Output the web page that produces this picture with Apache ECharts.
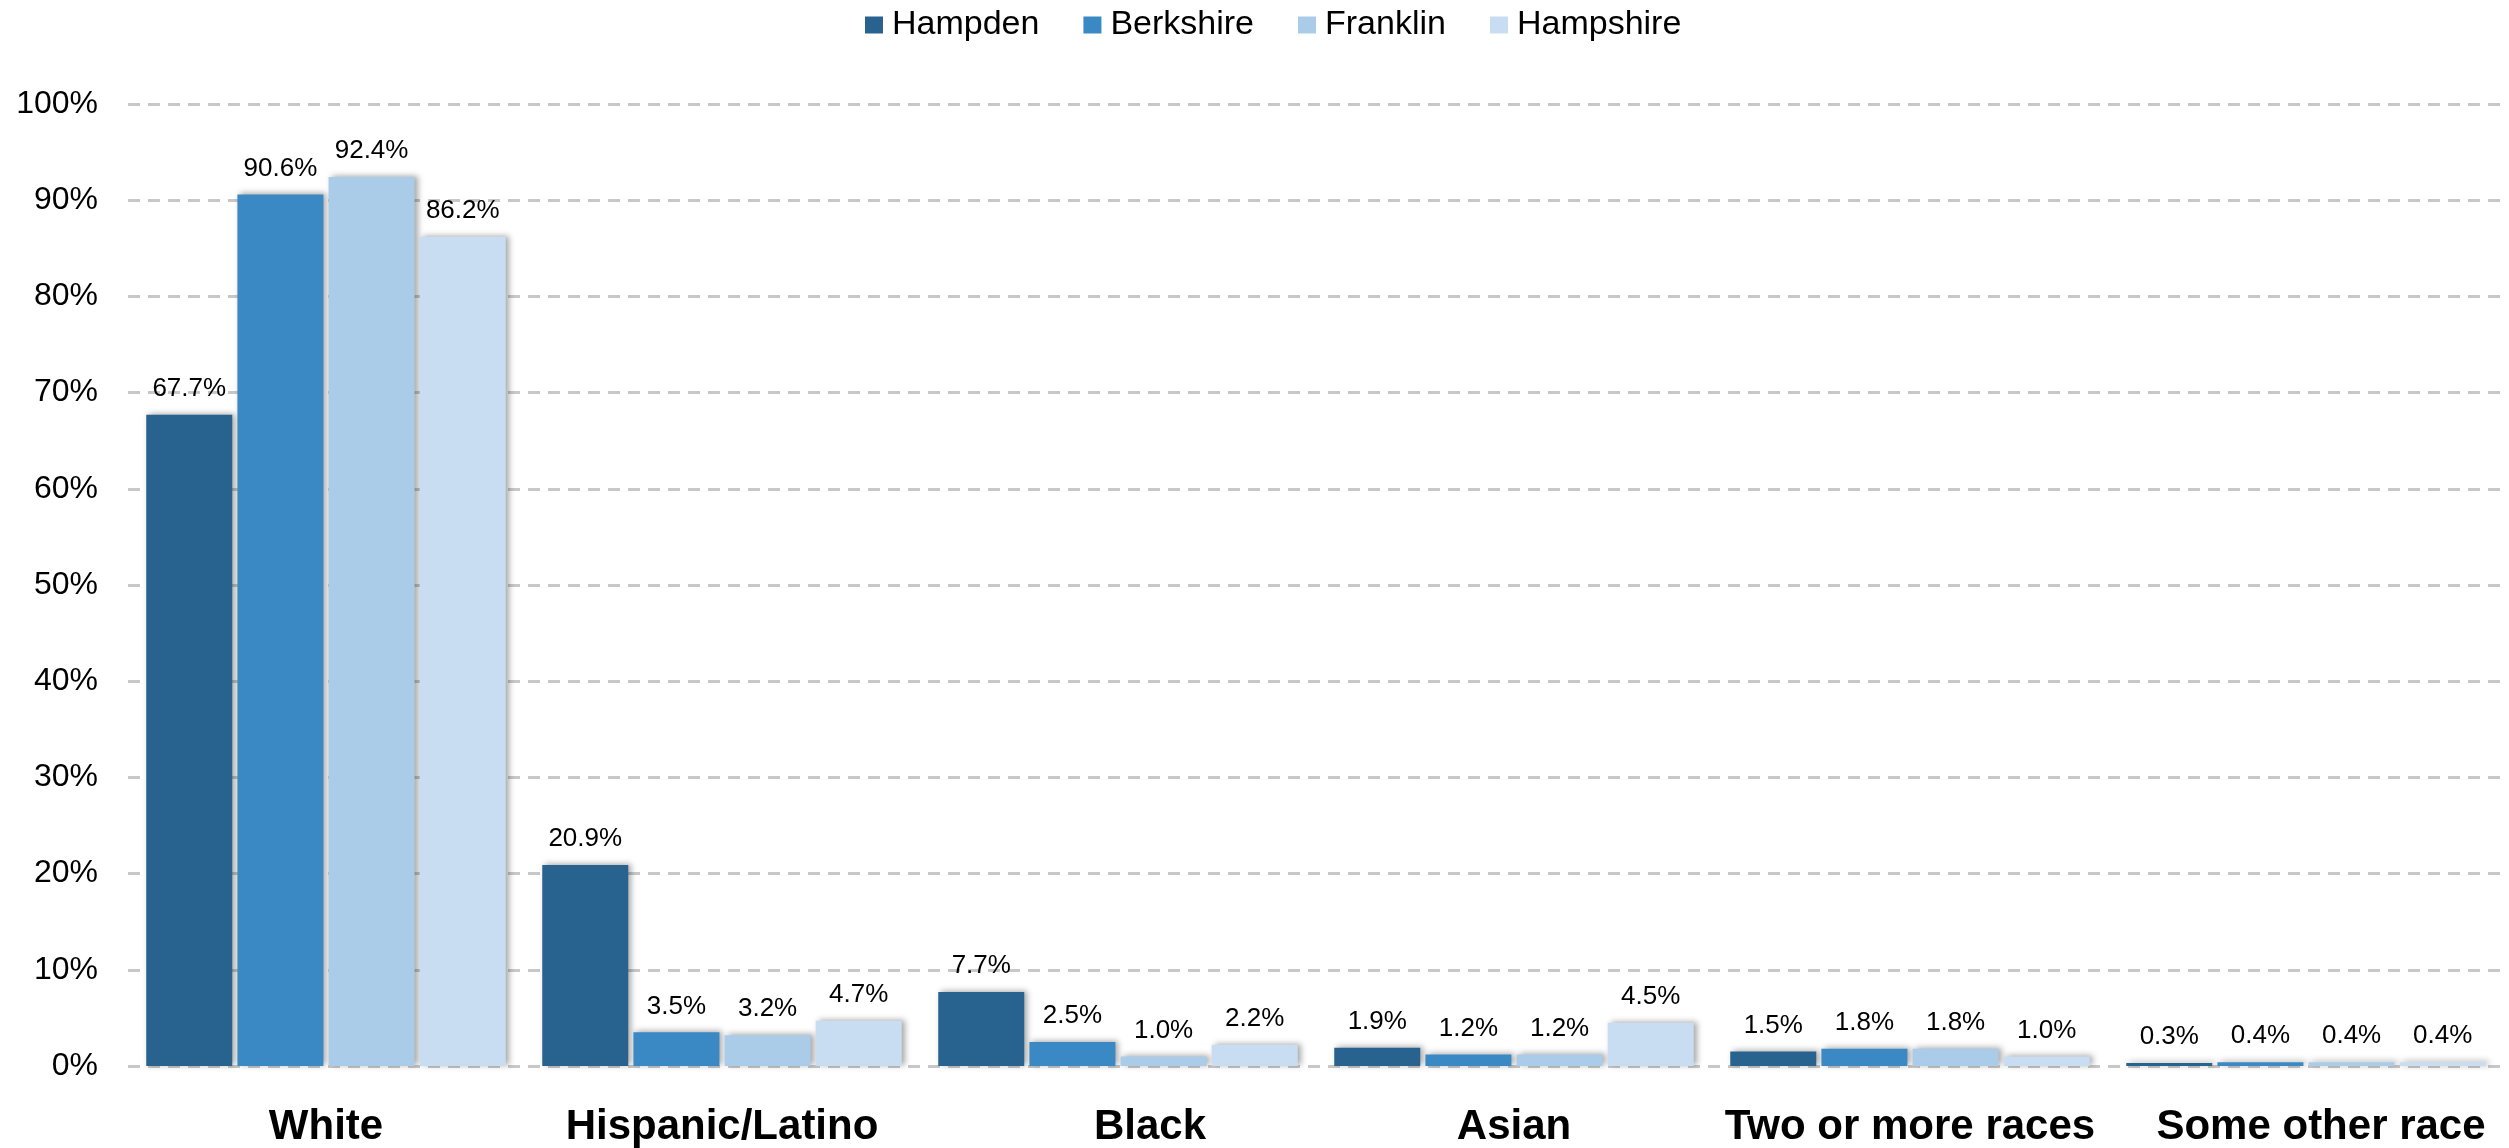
<!DOCTYPE html>
<html>
<head>
<meta charset="utf-8">
<title>Population by race/ethnicity — Western Massachusetts counties</title>
<script src="https://cdn.jsdelivr.net/npm/echarts@6/dist/echarts.min.js"></script>
<style>
  html, body { margin: 0; padding: 0; background: #ffffff; }
  #chart { width: 2509px; height: 1148px; }
</style>
</head>
<body>
<div id="chart"></div>
<script>
// Share of population (%) by race / ethnicity for each county
const categories = ['White', 'Hispanic/Latino', 'Black', 'Asian', 'Two or more races', 'Some other race'];
const hampden   = [67.7, 20.9, 7.7, 1.9, 1.5, 0.3];
const berkshire = [90.6, 3.5, 2.5, 1.2, 1.8, 0.4];
const franklin  = [92.4, 3.2, 1.0, 1.2, 1.8, 0.4];
const hampshire = [86.2, 4.7, 2.2, 4.5, 1.0, 0.4];
const yTicks = [0, 10, 20, 30, 40, 50, 60, 70, 80, 90, 100];

const FONT = '"Liberation Sans", Arial, Helvetica, sans-serif';
const counties = [
  { name: 'Hampden',   data: hampden,   color: '#28628e' },
  { name: 'Berkshire', data: berkshire, color: '#3a88c4' },
  { name: 'Franklin',  data: franklin,  color: '#abcce8' },
  { name: 'Hampshire', data: hampshire, color: '#c8ddf1' }
];

// a couple of category labels sit a little right of their group centre
const labelNudge = { 'Black': 64, 'Some other race': 30 };

const chart = echarts.init(document.getElementById('chart'), null, { renderer: 'canvas' });

chart.setOption({
  animation: false,
  backgroundColor: '#ffffff',
  textStyle: { fontFamily: FONT },
  legend: {
    left: 860,
    top: 3,
    icon: 'rect',
    itemWidth: 18,
    itemHeight: 17,
    itemGap: 44,
    textStyle: { fontFamily: FONT, fontSize: 34, color: '#000', padding: [0, 0, 0, 4] },
    data: counties.map(c => c.name)
  },
  grid: { left: 128, right: 5, top: 104, bottom: 80 },
  xAxis: {
    type: 'category',
    data: categories.map(name => labelNudge[name]
      ? { value: name, textStyle: { padding: [0, 0, 0, labelNudge[name]] } }
      : name),
    axisLine: { show: false },
    axisTick: { show: false },
    axisLabel: {
      interval: 0,
      margin: 40,
      fontFamily: FONT,
      fontSize: 42,
      fontWeight: 'bold',
      color: '#000'
    }
  },
  yAxis: {
    type: 'value',
    min: yTicks[0],
    max: yTicks[yTicks.length - 1],
    interval: yTicks[1] - yTicks[0],
    axisLine: { show: false },
    axisTick: { show: false },
    axisLabel: {
      margin: 30,
      fontFamily: FONT,
      fontSize: 32,
      color: '#000',
      formatter: '{value}%'
    },
    splitLine: {
      show: true,
      lineStyle: { color: '#c8c8c8', width: 3, type: [12, 8] }
    }
  },
  series: counties.map(c => ({
    name: c.name,
    type: 'bar',
    data: c.data,
    barWidth: 86,
    barGap: '6%',
    itemStyle: {
      color: c.color,
      shadowColor: 'rgba(0,0,0,0.35)',
      shadowBlur: 6,
      shadowOffsetX: 3,
      shadowOffsetY: -1
    },
    label: {
      show: true,
      position: 'top',
      distance: 13,
      fontFamily: FONT,
      fontSize: 26,
      color: '#000',
      formatter: p => p.value.toFixed(1) + '%'
    }
  }))
});
</script>
</body>
</html>
